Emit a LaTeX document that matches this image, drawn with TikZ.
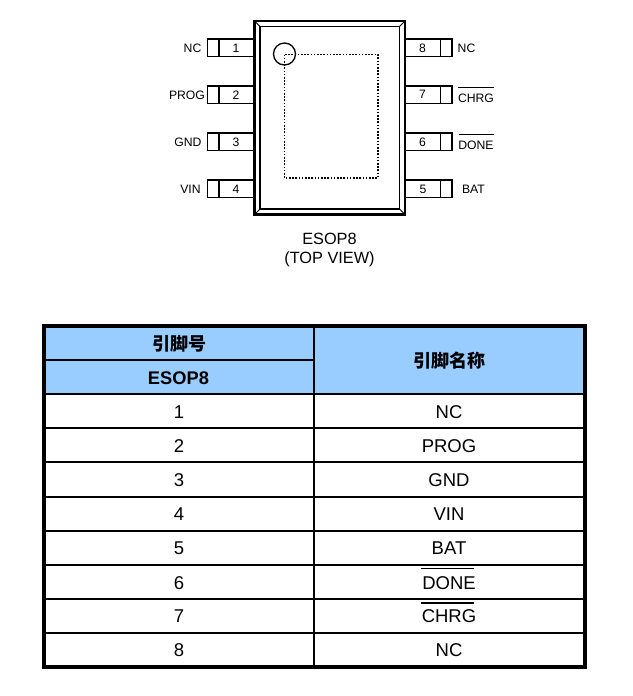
\documentclass[tikz,border=0pt]{standalone}
\usepackage{fontspec}
\setmainfont{Liberation Sans}
\newfontfamily\cjk{Noto Sans CJK SC}
\definecolor{headblue}{HTML}{99CCFF}
\tikzset{
  pinbox/.style={draw=black,line width=1.4pt,fill=white},
  pintext/.style={inner sep=0pt,anchor=base,font=\fontsize{12.2}{14}\selectfont,text=black},
  captext/.style={inner sep=0pt,anchor=base,font=\fontsize{16.3}{18}\selectfont,text=black},
  celltext/.style={inner sep=0pt,anchor=base,font=\fontsize{18.5}{22}\selectfont},
  headtext/.style={inner sep=0pt,anchor=base,font=\fontsize{18.3}{22}\selectfont\bfseries},
  headcjk/.style={inner sep=0pt,anchor=base,font=\fontsize{18}{22}\selectfont\cjk\bfseries},
  thingrid/.style={line width=1.7pt,black},
  thickframe/.style={line width=3.4pt,black},
}
\begin{document}
\begin{tikzpicture}[x=1pt,y=-1pt]
\useasboundingbox (0,0) rectangle (632,696);
% package body
\draw[line width=2.3pt] (254.5,21) rectangle (405,214.5);
\draw[line width=1.4pt] (260,26.5) rectangle (399.5,209);
\draw[line width=1pt] (254.5,21) -- (260,26.5) (405,21) -- (399.5,26.5)
  (254.5,214.5) -- (260,209) (405,214.5) -- (399.5,209);
% left pins
\foreach \yy in {39,86,133,180}{
  \draw[pinbox] (207.5,\yy) rectangle (254,\yy+17.5);
  \draw[line width=1.4pt] (219,\yy) -- (219,\yy+17.5);
}
% right pins
\foreach \yy in {39,86,133,180}{
  \draw[pinbox] (405.5,\yy) rectangle (452,\yy+17.5);
  \draw[line width=1.4pt] (440.5,\yy) -- (440.5,\yy+17.5);
}
% pin 1 mark and pad
\draw[line width=1.3pt] (284.5,54) circle (11);
\draw[line width=1.3pt,dash pattern=on 1.6pt off 1.6pt] (284.5,54.5) rectangle (378,178);
% pin numbers
\node[pintext] (n1) at (236,52) {1};
\node[pintext] (n2) at (236,99.5) {2};
\node[pintext] (n3) at (236,146.5) {3};
\node[pintext] (n4) at (236,193) {4};
\node[pintext] (n8) at (422.5,52) {8};
\node[pintext] (n7) at (422.5,98.5) {7};
\node[pintext] (n6) at (422.5,146) {6};
\node[pintext] (n5) at (423,193) {5};
% pin names
\node[pintext] (lnc) at (192.5,52) {NC};
\node[pintext] (lprog) at (187,99) {PROG};
\node[pintext] (lgnd) at (188,146.5) {GND};
\node[pintext] (lvin) at (190.5,193.5) {VIN};
\node[pintext] (rnc) at (466.5,52) {NC};
\node[pintext] (rchrg) at (476,102) {CHRG};
\node[pintext] (rdone) at (476,149) {DONE};
\node[pintext] (rbat) at (473.5,193) {BAT};
\draw[line width=0.8pt] (458,87) -- (494,87);
\draw[line width=0.8pt] (459,134.5) -- (494,134.5);
% caption
\node[captext] (cap1) at (329.5,244.5) {ESOP8};
\node[captext] (cap2) at (329.5,263) {(TOP VIEW)};
% table fill
\fill[headblue] (44,326) rectangle (585,394);
% grid
\foreach \yy in {428,462,497,531,565,599,633}{
  \draw[thingrid] (44,\yy) -- (585,\yy);
}
\draw[thingrid] (44,360) -- (314,360);
\draw[thingrid] (44,394) -- (585,394);
\draw[thingrid] (314,326) -- (314,667);
\draw[thickframe] (44,326) rectangle (585,667);
% header
\node[headcjk] (h1) at (179,350) {引脚号};
\node[headtext] (h2) at (178.5,384) {ESOP8};
\node[headcjk] (h3) at (449.5,367) {引脚名称};
% rows
\node[celltext] (a1) at (179,418) {1};
\node[celltext] (a2) at (179,452) {2};
\node[celltext] (a3) at (179,486) {3};
\node[celltext] (a4) at (179,520) {4};
\node[celltext] (a5) at (179,554) {5};
\node[celltext] (a6) at (179,589) {6};
\node[celltext] (a7) at (179,622.5) {7};
\node[celltext] (a8) at (179,656) {8};
\node[celltext] (b1) at (449,418) {NC};
\node[celltext] (b2) at (449,452) {PROG};
\node[celltext] (b3) at (449,486) {GND};
\node[celltext] (b4) at (449,520) {VIN};
\node[celltext] (b5) at (449,554) {BAT};
\node[celltext] (b6) at (449,589) {DONE};
\node[celltext] (b7) at (449,622.5) {CHRG};
\node[celltext] (b8) at (449,656) {NC};
\draw[line width=1.1pt] (421,568.5) -- (474,568.5);
\draw[line width=1.1pt] (421,603) -- (474,603);
\end{tikzpicture}
\end{document}
